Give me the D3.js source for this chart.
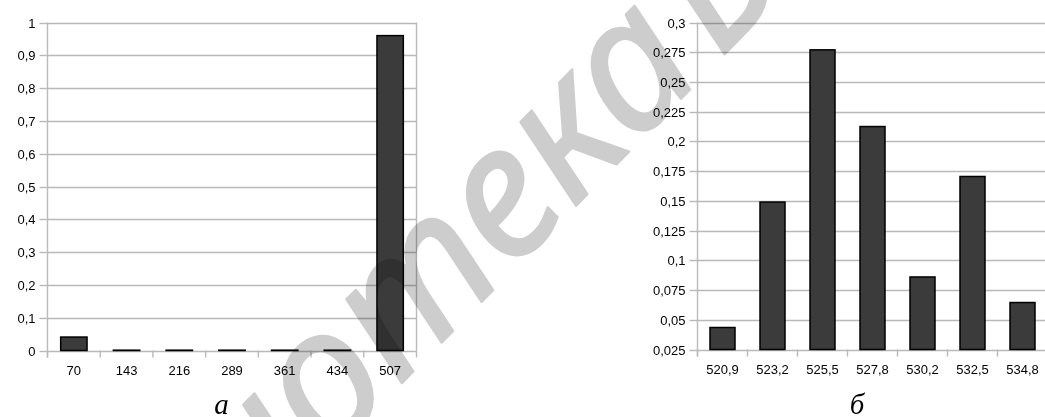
<!DOCTYPE html>
<html><head><meta charset="utf-8">
<script src="https://cdn.jsdelivr.net/npm/d3@7"></script>
<style>
html,body{margin:0;padding:0;background:#fff;}
svg{display:block;}
</style></head>
<body>
<svg id="c" width="1045" height="417"></svg>
<script>
// ---- data ----
const catsA = ["70","143","216","289","361","434","507"];
const valsA = [0.041, 0.001, 0.001, 0.001, 0.001, 0.001, 0.96];
const ticksA = [0,0.1,0.2,0.3,0.4,0.5,0.6,0.7,0.8,0.9,1];
const tickLabelsA = ["0","0,1","0,2","0,3","0,4","0,5","0,6","0,7","0,8","0,9","1"];
const captionA = "а";

const catsB = ["520,9","523,2","525,5","527,8","530,2","532,5","534,8"];
const valsB = [0.0435, 0.149, 0.277, 0.2125, 0.086, 0.1705, 0.0645];
const ticksB = [0.025,0.05,0.075,0.1,0.125,0.15,0.175,0.2,0.225,0.25,0.275,0.3];
const tickLabelsB = ["0,025","0,05","0,075","0,1","0,125","0,15","0,175","0,2","0,225","0,25","0,275","0,3"];
const captionB = "б";

const watermarkMain = "Библиотека";
const watermarkTail = "БГУ";

// ---- drawing ----
const svg = d3.select("#c");
const gridColor = "#b9b9b9";
const font = "'Liberation Sans', Arial, sans-serif";

function chart(opt){
  const g = svg.append("g");
  const x = d3.scaleBand().domain(opt.cats).range([opt.x0, opt.x1]).paddingInner(0.5).paddingOuter(0.25);
  const y = d3.scaleLinear().domain(opt.ydom).range([opt.y0, opt.y1]);
  const py = d => Math.round(y(d)) + 0.5;
  // gridlines
  g.selectAll("line.grid").data(opt.ticks).join("line")
    .attr("x1", opt.x0).attr("x2", opt.gridEnd)
    .attr("y1", py).attr("y2", py)
    .attr("stroke", gridColor).attr("stroke-width", 1.4);
  // y axis
  const ya = d3.axisLeft(y).tickValues(opt.ticks).tickFormat((d,i) => opt.labels[i]).tickSize(8).tickPadding(4).tickSizeOuter(0);
  const yg = g.append("g").attr("transform", `translate(${opt.x0},0)`).call(ya);
  yg.select(".domain").remove();
  yg.selectAll(".tick line").attr("stroke", gridColor).attr("stroke-width", 1.4);
  yg.selectAll(".tick").attr("transform", d => `translate(0,${py(d)})`);
  yg.selectAll("text").attr("font-family", font).attr("font-size", 13).attr("fill", "#000").attr("dy", "0.35em");
  // y axis line
  g.append("line").attr("x1", opt.x0).attr("x2", opt.x0).attr("y1", y(opt.ydom[1])).attr("y2", opt.y0 + 7)
    .attr("stroke", gridColor).attr("stroke-width", 1.4);
  if (opt.rightBorder) {
    g.append("line").attr("x1", opt.x1).attr("x2", opt.x1).attr("y1", y(opt.ydom[1])).attr("y2", opt.y0)
      .attr("stroke", gridColor).attr("stroke-width", 1.4);
  }
  // x axis ticks at band boundaries
  const step = (opt.x1 - opt.x0) / opt.cats.length;
  const bounds = d3.range(opt.cats.length + 1).map(i => opt.x0 + i * step);
  g.selectAll("line.xt").data(bounds).join("line")
    .attr("x1", d => d).attr("x2", d => d).attr("y1", opt.y0).attr("y2", opt.y0 + 7)
    .attr("stroke", gridColor).attr("stroke-width", 1.4);
  const xa = d3.axisBottom(x).tickSize(0).tickPadding(15);
  const xg = g.append("g").attr("transform", `translate(0,${opt.y0})`).call(xa);
  xg.select(".domain").remove();
  xg.selectAll("text").attr("font-family", font).attr("font-size", 13).attr("fill", "#000");
  // bars
  g.selectAll("rect.bar").data(opt.vals).join("rect")
    .attr("x", (d,i) => x(opt.cats[i])).attr("width", x.bandwidth())
    .attr("y", d => y(d)).attr("height", d => y(opt.ydom[0]) - y(d))
    .attr("fill", "#3b3b3b").attr("stroke", "#000").attr("stroke-width", 1.5);
  // caption
  g.append("text").attr("x", opt.capX).attr("y", 414).attr("text-anchor", "middle")
    .attr("font-family", "'Liberation Serif', 'Times New Roman', serif").attr("font-style", "italic")
    .attr("font-size", 29).attr("fill", "#000").text(opt.caption);
}

chart({cats: catsA, vals: valsA, ticks: ticksA, labels: tickLabelsA, ydom: [0, 1],
       x0: 47.5, x1: 416.5, y0: 350.5, y1: 22.5, gridEnd: 416.5, rightBorder: true,
       capX: 221.5, caption: captionA});
chart({cats: catsB, vals: valsB, ticks: ticksB, labels: tickLabelsB, ydom: [0.025, 0.3],
       x0: 697.5, x1: 1047.5, y0: 349.5, y1: 22.5, gridEnd: 1045, rightBorder: false,
       capX: 857, caption: captionB});

// watermark: fitted so that the letters "о" and "а" land where the reference shows them
const F0 = 200;
const wmOuter = svg.append("g").style("mix-blend-mode", "multiply");
const wm = wmOuter.append("g");
const wmStyle = s => s.attr("font-family", "'Noto Sans', 'Open Sans', sans-serif").attr("font-style", "italic")
  .attr("font-size", F0).attr("fill", "#cdcdcd");
const t1 = wm.append("text").attr("x", 0).attr("y", 0).call(wmStyle).text(watermarkMain);
const n1 = t1.node();
const cen = i => {
  const a = n1.getStartPositionOfChar(i), b = n1.getEndPositionOfChar(i);
  return [(a.x + b.x) / 2, -0.27 * F0];
};
const pO = cen(5), pA = cen(9);
const TO = [328, 388], TA = [636, 74];
const vx = pA[0] - pO[0], vy = pA[1] - pO[1];
const wx = TA[0] - TO[0], wy = TA[1] - TO[1];
const sc = Math.hypot(wx, wy) / Math.hypot(vx, vy);
const ang = (Math.atan2(wy, wx) - Math.atan2(vy, vx)) * 180 / Math.PI;
wm.attr("transform", `translate(${TO[0]},${TO[1]}) rotate(${ang}) scale(${sc}) translate(${-pO[0]},${-pO[1]})`);
const endA = n1.getEndPositionOfChar(9).x;
const t2 = wm.append("text").attr("x", endA + 0.1 * F0).attr("y", 0).call(wmStyle).text(watermarkTail);
[t1, t2].forEach(t => t.attr("stroke", "#cdcdcd").attr("stroke-width", 2.5 / sc).attr("stroke-linejoin", "round"));
</script>
</body></html>
